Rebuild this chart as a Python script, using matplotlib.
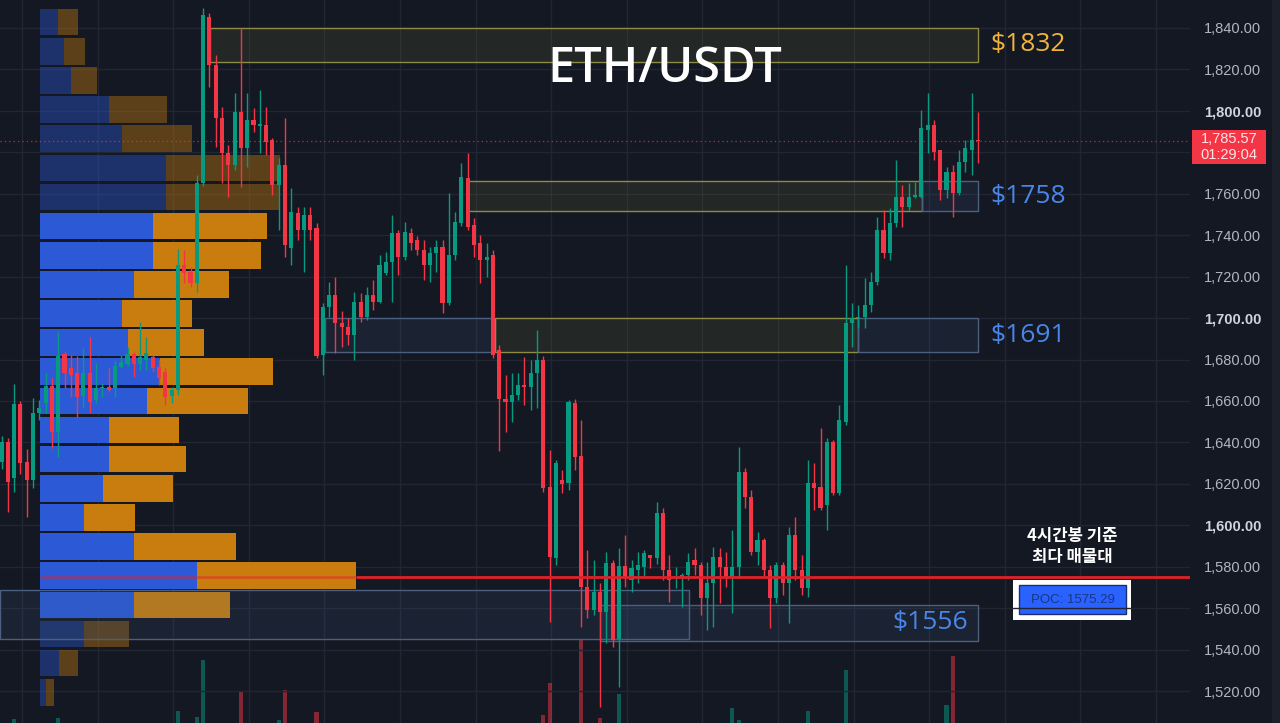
import matplotlib
matplotlib.use('Agg')
import matplotlib.pyplot as plt
from matplotlib.patches import Rectangle

plt.rcParams['font.family'] = ['Noto Sans', 'Noto Sans CJK KR', 'DejaVu Sans']

# ---------------- data ----------------
opens = [1630.6, 1640.2, 1622.8, 1658.5, 1630.6, 1621.9, 1654.2, 1658.9, 1667.4, 1645.2,
         1682.7, 1675.9, 1673.5, 1662.4, 1673.7, 1660.5, 1666.1, 1666.9, 1666.1, 1676.5,
         1677.7, 1682.5, 1677.7, 1679.8, 1681.4, 1676.5, 1674.1, 1662.4, 1665.3, 1725.6,
         1722.4, 1716.8, 1765.0, 1845.5, 1822.1, 1796.4, 1779.5, 1773.9, 1799.6, 1781.9,
         1795.6, 1792.7, 1793.2, 1786.0, 1764.2, 1773.9, 1733.8, 1750.7, 1742.5, 1749.7,
         1743.5, 1682.2, 1705.5, 1711.1, 1697.8, 1695.6, 1691.8, 1707.9, 1700.7, 1711.1,
         1707.9, 1721.6, 1727.2, 1741.1, 1729.6, 1741.0, 1737.7, 1732.9, 1725.6, 1731.3,
         1734.5, 1707.1, 1730.4, 1745.7, 1767.5, 1744.9, 1736.2, 1728.0, 1730.4, 1684.6,
         1660.8, 1659.7, 1662.9, 1667.7, 1666.9, 1673.4, 1679.8, 1618.5, 1584.2, 1621.9,
         1620.4, 1659.2, 1633.5, 1570.4, 1559.1, 1568.0, 1558.3, 1581.8, 1545.0, 1580.4,
         1573.6, 1578.4, 1580.0, 1585.7, 1584.1, 1605.8, 1578.4, 1574.4, 1575.2, 1576.0,
         1583.3, 1580.8, 1564.8, 1572.0, 1584.9, 1580.0, 1574.4, 1580.0, 1625.9, 1613.8,
         1587.3, 1592.9, 1578.4, 1564.8, 1580.8, 1572.0, 1595.3, 1578.4, 1569.6, 1620.3,
         1618.7, 1609.8, 1640.4, 1615.5, 1650.0, 1697.6, 1699.9, 1700.7, 1706.3, 1717.6,
         1742.5, 1731.3, 1745.7, 1758.6, 1753.8, 1758.6, 1758.6, 1790.8, 1793.2, 1781.1,
         1761.8, 1770.7, 1760.2, 1775.5, 1781.1, 1786.0]
highs = [1643.0, 1642.0, 1668.2, 1660.0, 1636.8, 1661.4, 1660.5, 1673.5, 1671.0, 1693.4,
         1683.8, 1682.2, 1681.7, 1685.6, 1691.0, 1678.3, 1668.7, 1675.9, 1679.8, 1682.2,
         1686.2, 1683.8, 1698.3, 1690.9, 1682.2, 1679.8, 1675.9, 1666.9, 1733.3, 1732.9,
         1724.8, 1769.1, 1849.5, 1847.2, 1827.0, 1802.0, 1783.5, 1808.5, 1839.9, 1808.5,
         1801.4, 1810.1, 1802.0, 1787.0, 1777.3, 1796.4, 1762.6, 1753.8, 1753.8, 1753.8,
         1746.0, 1707.3, 1717.6, 1719.8, 1703.6, 1700.0, 1712.7, 1712.0, 1715.2, 1718.4,
         1730.4, 1732.0, 1749.8, 1742.5, 1746.5, 1743.5, 1739.6, 1737.7, 1734.5, 1737.7,
         1737.7, 1760.2, 1751.4, 1774.7, 1779.8, 1748.2, 1740.1, 1736.0, 1732.9, 1687.0,
         1672.5, 1673.4, 1673.4, 1681.4, 1679.8, 1694.3, 1681.7, 1636.3, 1631.5, 1626.7,
         1660.5, 1661.0, 1650.8, 1588.1, 1583.3, 1572.2, 1587.3, 1583.3, 1589.0, 1595.3,
         1583.3, 1587.3, 1588.1, 1585.7, 1611.4, 1608.4, 1585.7, 1580.0, 1577.0, 1586.5,
         1588.9, 1582.4, 1582.4, 1589.7, 1589.0, 1587.3, 1597.7, 1637.9, 1627.6, 1617.0,
         1597.0, 1593.9, 1580.8, 1582.4, 1582.4, 1599.3, 1604.2, 1585.7, 1631.5, 1629.9,
         1647.0, 1642.1, 1641.2, 1658.1, 1725.6, 1707.3, 1706.3, 1719.4, 1722.4, 1748.9,
         1752.2, 1753.1, 1776.3, 1764.2, 1765.0, 1765.8, 1800.4, 1808.5, 1795.6, 1781.1,
         1773.1, 1773.9, 1781.1, 1786.0, 1808.5, 1799.6]
lows = [1627.0, 1606.4, 1616.0, 1625.0, 1604.0, 1618.0, 1650.8, 1654.2, 1637.3, 1633.0,
        1666.3, 1662.0, 1652.3, 1657.1, 1654.2, 1659.0, 1662.1, 1664.3, 1662.1, 1675.9,
        1677.0, 1671.7, 1675.0, 1675.0, 1674.1, 1667.7, 1658.0, 1658.9, 1662.9, 1716.8,
        1715.0, 1712.7, 1763.7, 1811.7, 1782.7, 1765.0, 1758.6, 1771.5, 1763.4, 1773.1,
        1790.0, 1779.7, 1778.7, 1759.4, 1742.5, 1729.5, 1725.6, 1737.7, 1722.4, 1737.7,
        1680.8, 1672.5, 1700.7, 1683.2, 1686.2, 1687.0, 1680.0, 1698.3, 1699.0, 1704.0,
        1707.3, 1720.8, 1707.9, 1720.8, 1728.0, 1733.0, 1730.4, 1718.4, 1717.6, 1722.4,
        1702.5, 1706.3, 1728.0, 1744.4, 1742.5, 1729.6, 1716.8, 1720.0, 1680.7, 1636.0,
        1645.2, 1650.0, 1660.5, 1658.0, 1655.6, 1656.5, 1616.0, 1553.5, 1580.8, 1615.6,
        1617.0, 1626.7, 1551.0, 1555.1, 1556.7, 1512.5, 1543.0, 1541.4, 1522.1, 1570.4,
        1568.0, 1572.0, 1575.2, 1579.2, 1581.3, 1573.6, 1563.1, 1569.6, 1560.7, 1573.6,
        1576.0, 1556.7, 1549.5, 1551.0, 1562.4, 1570.4, 1557.5, 1574.4, 1608.4, 1585.7,
        1580.8, 1575.2, 1550.3, 1562.4, 1566.4, 1552.7, 1573.6, 1566.4, 1565.6, 1607.4,
        1607.4, 1597.7, 1614.6, 1614.6, 1648.4, 1686.2, 1695.2, 1695.2, 1703.1, 1716.0,
        1728.9, 1728.0, 1744.1, 1744.1, 1752.2, 1757.8, 1757.8, 1779.5, 1776.3, 1757.0,
        1757.8, 1749.0, 1759.4, 1770.7, 1769.1, 1774.7]
closes = [1640.2, 1621.0, 1658.5, 1630.1, 1621.9, 1654.2, 1656.6, 1667.4, 1645.2, 1681.7,
          1673.4, 1672.5, 1662.1, 1673.7, 1659.7, 1666.3, 1666.9, 1665.3, 1676.9, 1679.0,
          1682.5, 1677.7, 1681.4, 1683.0, 1675.8, 1670.9, 1662.1, 1665.3, 1725.6, 1721.6,
          1716.8, 1765.0, 1846.3, 1822.1, 1796.4, 1779.5, 1773.9, 1799.6, 1781.9, 1795.6,
          1793.2, 1793.7, 1785.1, 1764.2, 1773.9, 1735.3, 1751.3, 1742.5, 1749.7, 1742.5,
          1681.7, 1705.5, 1711.1, 1697.5, 1695.6, 1691.8, 1707.9, 1700.7, 1711.1, 1707.9,
          1725.6, 1727.2, 1741.1, 1729.6, 1741.7, 1736.2, 1732.9, 1725.6, 1731.4, 1734.5,
          1707.1, 1730.4, 1746.5, 1768.2, 1744.1, 1735.3, 1728.0, 1729.6, 1682.2, 1660.8,
          1659.7, 1662.9, 1667.7, 1666.9, 1673.4, 1679.8, 1618.0, 1584.8, 1630.1, 1620.0,
          1659.7, 1633.2, 1570.4, 1559.1, 1568.0, 1558.3, 1581.8, 1544.7, 1580.4, 1574.4,
          1579.2, 1580.8, 1586.5, 1584.1, 1605.8, 1578.4, 1573.6, 1575.2, 1576.0, 1582.4,
          1580.8, 1564.8, 1572.0, 1584.9, 1580.0, 1574.4, 1580.0, 1625.9, 1613.8, 1587.3,
          1592.9, 1578.4, 1564.8, 1580.8, 1572.0, 1595.3, 1578.4, 1569.6, 1620.3, 1617.9,
          1608.2, 1640.4, 1615.5, 1650.8, 1697.5, 1700.1, 1700.7, 1706.3, 1717.6, 1742.5,
          1731.3, 1745.7, 1758.6, 1753.8, 1758.6, 1759.4, 1791.6, 1793.2, 1780.3, 1761.8,
          1770.7, 1760.2, 1775.5, 1781.9, 1786.0, 1785.57]

vol_idx = [2, 9, 28, 31, 32, 38, 44, 45, 50, 86, 87, 92, 95, 98, 116, 117, 128, 134, 150, 151]
vol_val = [4, 5, 12, 6, 63, 31, 3, 33, 11, 8, 40, 83, 5, 29, 15, 3, 12, 53, 18, 67]

vp_price = [1842.8, 1828.7, 1814.7, 1800.6, 1786.6, 1772.5, 1758.4, 1744.4, 1730.3, 1716.3,
            1702.2, 1688.1, 1674.1, 1660.0, 1646.0, 1631.9, 1617.8, 1603.8, 1589.7, 1575.7,
            1561.6, 1547.5, 1533.5, 1519.4]
vp_buy = [18, 24, 31, 69, 82, 126, 126, 113, 113, 94, 82, 88, 120, 107, 69, 69, 63, 44, 94,
          157, 94, 44, 19, 6]
vp_sell = [20, 21, 26, 58, 70, 114, 114, 114, 108, 95, 70, 76, 113, 101, 70, 77, 70, 51, 102,
           159, 96, 45, 19, 8]
va_first, va_last = 7, 20          # value-area rows (bright)

poc_price = 1575.29
last_price = 1785.57
price_ticks = list(range(1520, 1841, 20))
bold_ticks = [1600, 1700, 1800]
hidden_ticks = [1780]              # covered by the last-price label

# zones: (x0 index, x1 index, low, high, kind)
zones = [
    (33.1, 155.0, 1823.6, 1840.0, 'y'),
    (74.0, 146.1, 1751.7, 1766.2, 'y'),
    (146.1, 155.0, 1751.7, 1766.2, 'b'),
    (51.3, 78.3, 1683.6, 1700.0, 'b'),
    (78.3, 136.0, 1683.6, 1700.0, 'y'),
    (136.0, 155.0, 1683.6, 1700.0, 'b'),
    (-0.3, 109.1, 1545.1, 1568.8, 'b'),
    (95.0, 155.0, 1544.2, 1561.5, 'b'),
]
zone_labels = [('$1832', 156.9, 1831.8, 'left', '#f0b43c'),
               ('$1758', 156.9, 1758.9, 'left', '#4a86e8'),
               ('$1691', 156.9, 1691.8, 'left', '#4a86e8'),
               ('$1556', 153.4, 1552.9, 'right', '#4a86e8')]

# ---------------- style ----------------
BG = '#141823'
GRID = '#222632'
UP = '#089981'
DN = '#f23645'
W, H = 1280, 723
XMIN, XMAX = -1.5 / 6.3, (1190 - 1.5) / 6.3
YMIN, YMAX = 1504.6, 1853.5
HEAD_FONT = ['Open Sans', 'Noto Sans', 'DejaVu Sans']

fig = plt.figure(figsize=(W / 100, H / 100), dpi=100, facecolor=BG)
pos = [0, 0, 1190 / W, 1]
ax_bg = fig.add_axes(pos, zorder=0)
ax_vp = fig.add_axes(pos, zorder=1)
ax = fig.add_axes(pos, zorder=2)

for a in (ax_bg, ax_vp, ax):
    for s in a.spines.values():
        s.set_visible(False)
ax_bg.set_facecolor(BG)
ax_vp.patch.set_alpha(0)
ax.patch.set_alpha(0)

# background: vertical grid + volume bars
ax_bg.set_xlim(XMIN, XMAX)
ax_bg.set_ylim(0, H)
ax_bg.set_xticks([]); ax_bg.set_yticks([])
k = 3.25
while k < XMAX:
    ax_bg.axvline(k, color=GRID, lw=1, zorder=0)
    k += 12
for i, v in zip(vol_idx, vol_val):
    col = UP if closes[i] >= opens[i] else DN
    ax_bg.bar(i, v, width=0.66, color=col, alpha=0.5, zorder=1, linewidth=0)

# volume profile
ax_vp.set_xlim(-40, 1150)
ax_vp.set_ylim(YMIN, YMAX)
ax_vp.set_xticks([]); ax_vp.set_yticks([])
for p in price_ticks:
    ax_vp.axhline(p, color=GRID, lw=1, zorder=0)
for r, (pr, b, s) in enumerate(zip(vp_price, vp_buy, vp_sell)):
    a = 1.0 if va_first <= r <= va_last else 0.4
    ax_vp.barh(pr, b, height=12.8, left=0, color='#2c5ad6', alpha=a, linewidth=0, zorder=2)
    ax_vp.barh(pr, s, height=12.8, left=b, color='#c97d0e', alpha=a, linewidth=0, zorder=2)

# main axes
ax.set_xlim(XMIN, XMAX)
ax.set_ylim(YMIN, YMAX)

for x0, x1, lo, hi, kind in zones:
    if kind == 'y':
        fc, ec = (0.55, 0.55, 0.25, 0.13), '#8c8c44'
    else:
        fc, ec = (0.25, 0.37, 0.55, 0.16), '#4d5f7e'
    ax.add_patch(Rectangle((x0, lo), x1 - x0, hi - lo, facecolor=fc, edgecolor=ec, lw=1, zorder=1))

for i, (o, h, l, c) in enumerate(zip(opens, highs, lows, closes)):
    col = UP if c >= o else DN
    ax.vlines(i, l, h, color=col, lw=1, zorder=3)
    lo_b, hi_b = min(o, c), max(o, c)
    if hi_b - lo_b < 0.5:
        hi_b = lo_b + 0.5
    ax.add_patch(Rectangle((i - 0.33, lo_b), 0.66, hi_b - lo_b, facecolor=col, edgecolor='none', zorder=4))

# current price dotted line
ax.axhline(last_price, color=DN, lw=0.9, ls=(0, (1, 2.5)), alpha=0.75, zorder=5)

# POC line (translucent over the profile, solid beyond)
poc_row = vp_price.index(min(vp_price, key=lambda v: abs(v - poc_price)))
poc_end = vp_buy[poc_row] + vp_sell[poc_row]
ax.plot([0, poc_end], [poc_price, poc_price], color='#e0202a', lw=2, alpha=0.45,
        transform=ax_vp.transData, zorder=6, solid_capstyle='butt')
ax.plot([poc_end, 1150], [poc_price, poc_price], color='#e0202a', lw=2,
        transform=ax_vp.transData, zorder=6, solid_capstyle='butt')

for txt, x, y, ha, col in zone_labels:
    ax.text(x, y, txt, color=col, fontsize=19, family=HEAD_FONT,
            ha=ha, va='center', zorder=7)

# y axis on right
ax.yaxis.tick_right()
ax.set_yticks(price_ticks, labels=['' if p in hidden_ticks else f"{p:,.2f}" for p in price_ticks])
ax.tick_params(axis='y', length=0, pad=10, labelsize=10.5, labelcolor='#b2b5be')
ax.tick_params(axis='x', bottom=False, labelbottom=False)
for lab, p in zip(ax.get_yticklabels(), price_ticks):
    lab.set_fontfamily(['Liberation Sans', 'DejaVu Sans'])
    if p in bold_ticks:
        lab.set_fontweight('bold')
        lab.set_color('#d1d4dc')

fx = lambda px: px / W
fy = lambda py: 1 - py / H

# title
fig.text(fx(665), fy(70), 'ETH/USDT', color='white', fontsize=35, fontweight='semibold',
         family=HEAD_FONT, ha='center', va='center')

# current price label
fig.add_artist(Rectangle((fx(1192), fy(164)), 74 / W, 34 / H, transform=fig.transFigure,
                         facecolor=DN, edgecolor='none'))
fig.text(fx(1229), fy(139), f"{last_price:,.2f}", color='#ffe4e6', fontsize=10.5,
         ha='center', va='center', family=['Liberation Sans', 'DejaVu Sans'])
fig.text(fx(1229), fy(155), '01:29:04', color='#ffe4e6', fontsize=10.5,
         ha='center', va='center', family=['Liberation Sans', 'DejaVu Sans'])

# right scrollbar strip
fig.add_artist(Rectangle((fx(1272), 0), 8 / W, 1, transform=fig.transFigure,
                         facecolor='#1c202b', edgecolor='none'))

# annotation
fig.text(fx(1072), fy(536), '4시간봉 기준', color='white', fontsize=12, fontweight='bold',
         ha='center', va='center', family=['Noto Sans CJK KR', 'DejaVu Sans'])
fig.text(fx(1072), fy(557), '최다 매물대', color='white', fontsize=12, fontweight='bold',
         ha='center', va='center', family=['Noto Sans CJK KR', 'DejaVu Sans'])
fig.add_artist(Rectangle((fx(1013), fy(620)), 118 / W, 40 / H, transform=fig.transFigure,
                         facecolor='white', edgecolor='none'))
fig.add_artist(Rectangle((fx(1019), fy(614)), 107 / W, 29 / H, transform=fig.transFigure,
                         facecolor='#2962ff', edgecolor='#1a2f6e', lw=1))
fig.text(fx(1072.5), fy(600), f"POC: {poc_price:.2f}", color='#1a3584', fontsize=9.5,
         ha='center', va='center', family=['Liberation Sans', 'DejaVu Sans'])

fig.savefig('out.png', dpi=100, facecolor=BG)
